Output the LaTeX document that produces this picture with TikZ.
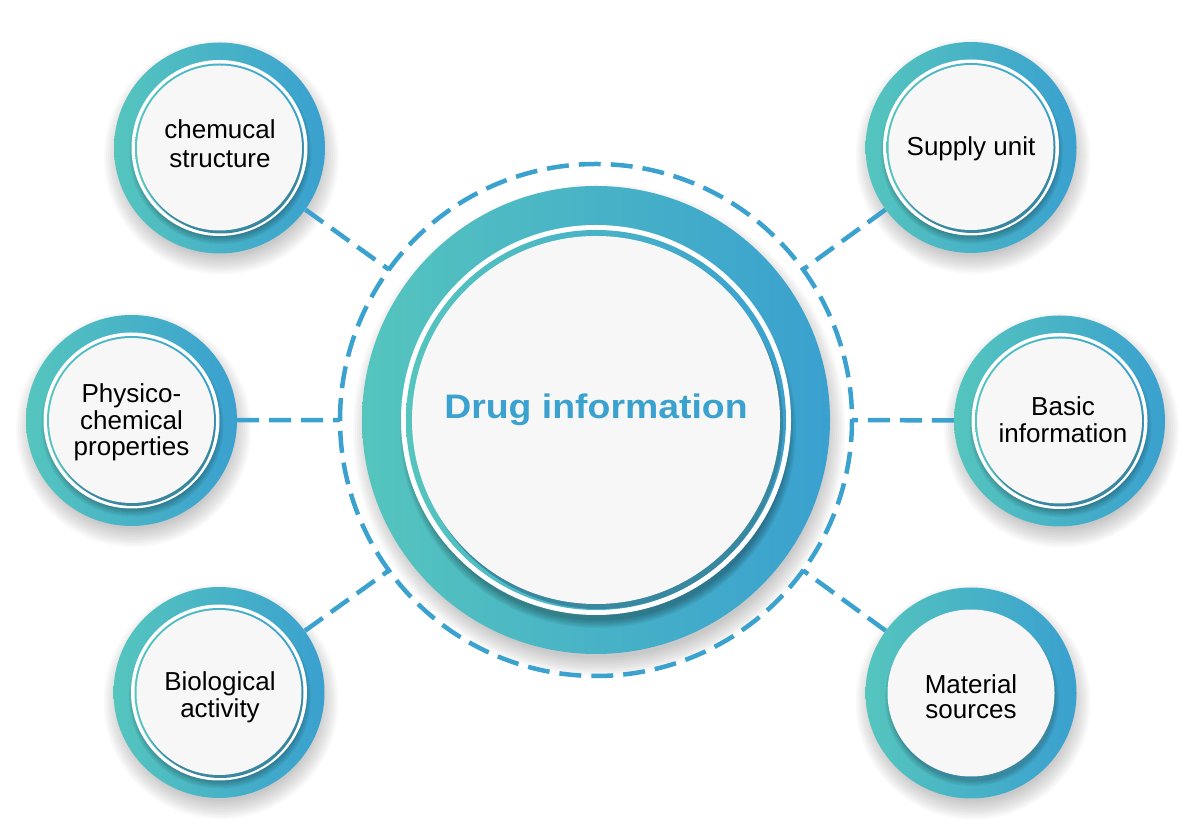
\documentclass[tikz,border=0pt]{standalone}
\usepackage{fontspec}
\setmainfont{Liberation Sans}
\definecolor{tealL}{RGB}{85,197,190}
\definecolor{blueR}{RGB}{58,160,207}
\definecolor{lineblue}{RGB}{59,162,208}
\definecolor{diskgray}{RGB}{247,247,247}
\definecolor{crescent}{RGB}{58,136,160}
\tikzset{
  ringshade/.style={left color=tealL, right color=blueR},
  dashline/.style={draw=lineblue, line width=4.5pt, dash pattern=on 22pt off 10pt},
  satring/.style={circle, minimum size=211pt, inner sep=0pt, ringshade},
  sattext/.style={font=\fontsize{26}{27}\selectfont, align=center, text=black, inner sep=0pt},
}
% soft drop shadow: #1 centre, #2 radius, #3 x offset, #4 y offset
\newcommand\softshade[4]{%
  \foreach \k in {0,...,9}{\fill[black,opacity=0.025] ([shift={(#3,#4)}]#1) circle ({#2+12-2*\k});}}
\newcommand\innershade[4]{%
  \foreach \k in {0,...,5}{\fill[black,opacity=0.055] ([shift={(#3,#4)}]#1) circle ({#2+3-1.5*\k});}}
% satellite with a white ring: #1 centre name
\newcommand\satdeco[1]{%
  \innershade{#1.center}{88}{1}{-5}
  \fill[white] (#1.center) circle (88);
  \shade[ringshade] (#1.center) circle (84.5);
  \fill[crescent] ([shift={(1.5,-3)}]#1.center) circle (82.5);
  \fill[diskgray] (#1.center) circle (82.5);}
\begin{document}
\begin{tikzpicture}[x=1pt,y=1pt]
\useasboundingbox (0,0) rectangle (1185,832);
\coordinate (C) at (596,412);
% central hub
\softshade{C}{234}{3}{-10}
\node[circle, minimum size=468pt, inner sep=0pt, ringshade] (hub) at (C) {};
\innershade{C}{195}{2}{-10}
\fill[white] (C) circle (195);
\shade[ringshade] (C) circle (190);
\fill[crescent] ([shift={(3,-5)}]C) circle (184);
\fill[diskgray] (C) circle (184);
\node[font=\fontsize{34}{40}\selectfont\bfseries, text=lineblue, anchor=base, inner sep=0pt] (hubtext) at (596,413) {\scalebox{1.1}[1]{Drug information}};
% dashed circle, one arc between each pair of connector corners
\coordinate (cl) at ([shift={(180:256)}]C);
\coordinate (ctl) at ([shift={(144:256)}]C);
\coordinate (ctr) at ([shift={(36:256)}]C);
\coordinate (cr) at ([shift={(0:256)}]C);
\coordinate (cbr) at ([shift={(-36:256)}]C);
\coordinate (cbl) at ([shift={(-144:256)}]C);
\draw[dashline] (cl) arc[start angle=180, end angle=144, radius=256];
\draw[dashline] (ctl) arc[start angle=144, end angle=36, radius=256];
\draw[dashline] (ctr) arc[start angle=36, end angle=0, radius=256];
\draw[dashline] (cr) arc[start angle=0, end angle=-36, radius=256];
\draw[dashline] (cbr) arc[start angle=-36, end angle=-144, radius=256];
\draw[dashline] (cbl) arc[start angle=-144, end angle=-180, radius=256];
% satellites
\softshade{219.5,684}{105.5}{2}{-9}
\node[satring] (tl) at (219.5,684) {};
\satdeco{tl}
\node[sattext, font=\fontsize{26}{29}\selectfont] (tlt) at (220,688.5) {chemucal\\structure};

\softshade{131.5,411.5}{105.5}{2}{-9}
\node[satring] (l) at (131.5,411.5) {};
\satdeco{l}
\node[sattext, font=\fontsize{26}{26.5}\selectfont] (lt) at (131.5,409.5) {Physico-\\chemical\\properties};

\softshade{219,139.5}{105.5}{2}{-9}
\node[satring] (bl) at (219,139.5) {};
\satdeco{bl}
\node[sattext] (blt) at (220,134.5) {Biological\\activity};

\softshade{971,684.5}{105.5}{2}{-9}
\node[satring] (tr) at (971,684.5) {};
\satdeco{tr}
\node[sattext] (trt) at (971,683.5) {Supply unit};

\softshade{1059.5,411}{105.5}{2}{-9}
\node[satring] (r) at (1059.5,411) {};
\satdeco{r}
\node[sattext] (rt) at (1063,412) {Basic\\information};

\softshade{971,139}{105.5}{2}{-9}
\node[satring] (br) at (971,139) {};
\innershade{br.center}{84}{1}{-6}
\fill[crescent] ([shift={(1.5,-4)}]br.center) circle (83.5);
\fill[diskgray] (br.center) circle (83.5);
\node[sattext, font=\fontsize{26}{25}\selectfont] (brt) at (971,135) {Material\\sources};
% connectors
\draw[dashline] (tl) -- (ctl);
\draw[dashline] (l) -- (cl);
\draw[dashline] (bl) -- (cbl);
\draw[dashline] (tr) -- (ctr);
\draw[dashline] (r) -- (cr);
\draw[dashline] (br) -- (cbr);
\end{tikzpicture}
\end{document}
